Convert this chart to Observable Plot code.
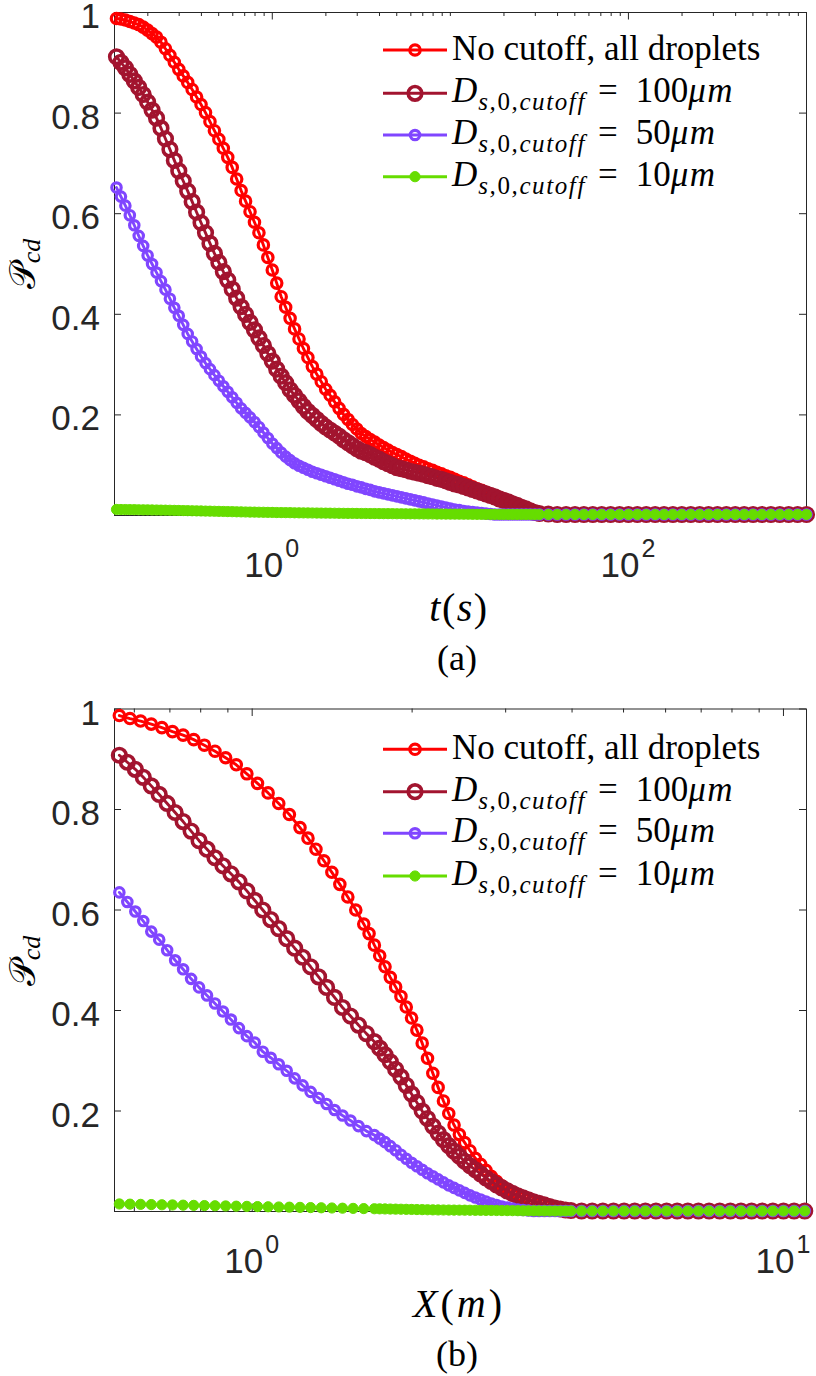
<!DOCTYPE html>
<html>
<head>
<meta charset="utf-8">
<script src="https://cdn.jsdelivr.net/npm/d3@7"></script>
<script src="https://cdn.jsdelivr.net/npm/@observablehq/plot@0.6"></script>
<style>
  html, body { margin: 0; padding: 0; background: #fff; }
  #page { position: relative; width: 816px; height: 1376px; overflow: hidden; background: #fff; }
  .panel { position: absolute; left: 0; }
  .panel svg { overflow: visible; display: block; }
</style>
</head>
<body>
<div id="page"></div>
<script>
// ---------------- DATA ----------------
const seriesNames = ["No cutoff, all droplets", "D_{s,0,cutoff} = 100μm", "D_{s,0,cutoff} = 50μm", "D_{s,0,cutoff} = 10μm"];
const cutoffs = [null, 100, 50, 10];
const yTicks = [0.2, 0.4, 0.6, 0.8, 1];
const yTickLabels = ["0.2", "0.4", "0.6", "0.8", "1"];

// Panel (a): time t (s)
const xTicksA = [1, 100];
const xTickExpA = ["0", "2"];
const xMinorA = [0.2,0.3,0.4,0.5,0.6,0.7,0.8,0.9,2,3,4,5,6,7,8,9,10,20,30,40,50,60,70,80,90,200,300,400,500,600,700,800,900];
const tA = [0.1334,0.1413,0.1496,0.1585,0.1679,0.1778,0.1884,0.1995,0.2113,0.2239,0.2371,0.2512,0.2661,0.2818,0.2985,0.3162,0.3350,0.3548,0.3758,0.3981,0.4217,0.4467,0.4732,0.5012,0.5309,0.5623,0.5957,0.6310,0.6683,0.7079,0.7499,0.7943,0.8414,0.8913,0.9441,1,1.059,1.122,1.189,1.259,1.334,1.413,1.496,1.585,1.679,1.778,1.884,1.995,2.113,2.239,2.371,2.512,2.661,2.818,2.985,3.162,
  3.350,3.548,3.758,3.981,4.217,4.467,4.732,5.012,5.309,5.623,5.957,6.310,6.683,7.079,7.499,7.943,8.414,8.913,9.441,10,10.59,11.22,11.89,12.59,13.34,14.13,14.96,15.85,16.79,17.78,18.84,19.95,21.13,22.39,23.71,25.12,26.61,28.18,29.85,31.62,
  35.48,39.81,44.67,50.12,56.23,63.10,70.79,79.43,89.13,100,112.2,125.9,141.3,158.5,177.8,199.5,223.9,251.2,281.8,316.2,354.8,398.1,446.7,501.2,562.3,631.0,707.9,794.3,891.3,1000];
const pA_all = [0.988,0.987,0.985,0.982,0.979,0.976,0.971,0.965,0.958,0.951,0.941,0.928,0.915,0.901,0.887,0.874,0.861,0.847,0.832,0.817,0.801,0.783,0.765,0.748,0.730,0.712,0.692,0.669,0.646,0.625,0.604,0.583,0.562,0.538,0.513,0.488,0.462,0.435,0.414,0.392,0.371,0.351,0.332,0.314,0.296,0.281,0.266,0.251,0.239,0.226,0.213,0.201,0.191,0.181,0.172,0.163,
  0.157,0.151,0.146,0.140,0.135,0.130,0.125,0.121,0.117,0.112,0.108,0.104,0.100,0.097,0.093,0.090,0.086,0.083,0.079,0.076,0.072,0.068,0.065,0.061,0.057,0.053,0.050,0.046,0.042,0.039,0.035,0.031,0.028,0.024,0.020,0.017,0.013,0.010,0.007,0.005,
  0.003,0.002,0.002,0.002,0.002,0.002,0.002,0.002,0.002,0.002,0.002,0.002,0.002,0.002,0.002,0.002,0.002,0.002,0.002,0.002,0.002,0.002,0.002,0.002,0.002,0.002,0.002,0.002,0.002,0.002];
const pA_100 = [0.912,0.901,0.890,0.877,0.864,0.851,0.837,0.822,0.806,0.790,0.770,0.749,0.728,0.706,0.685,0.665,0.645,0.624,0.603,0.582,0.562,0.541,0.521,0.503,0.485,0.468,0.450,0.432,0.415,0.400,0.384,0.369,0.353,0.338,0.322,0.307,0.291,0.277,0.264,0.250,0.239,0.228,0.217,0.207,0.199,0.191,0.183,0.176,0.170,0.164,0.158,0.151,0.145,0.139,0.133,0.128,
  0.125,0.121,0.116,0.112,0.107,0.103,0.099,0.095,0.093,0.091,0.088,0.086,0.084,0.082,0.079,0.077,0.074,0.072,0.069,0.066,0.063,0.061,0.058,0.055,0.052,0.049,0.046,0.043,0.040,0.037,0.033,0.030,0.027,0.023,0.020,0.016,0.013,0.009,0.006,0.004,
  0.003,0.002,0.002,0.002,0.002,0.002,0.002,0.002,0.002,0.002,0.002,0.002,0.002,0.002,0.002,0.002,0.002,0.002,0.002,0.002,0.002,0.002,0.002,0.002,0.002,0.002,0.002,0.002,0.002,0.002];
const pA_50 = [0.652,0.634,0.616,0.597,0.577,0.556,0.536,0.517,0.500,0.483,0.466,0.449,0.431,0.413,0.397,0.379,0.361,0.346,0.331,0.316,0.303,0.291,0.279,0.268,0.257,0.246,0.235,0.224,0.213,0.204,0.195,0.186,0.176,0.165,0.154,0.143,0.134,0.125,0.117,0.110,0.104,0.099,0.095,0.091,0.087,0.084,0.081,0.078,0.075,0.072,0.069,0.066,0.063,0.061,0.058,0.056,
  0.053,0.051,0.048,0.046,0.044,0.042,0.040,0.038,0.036,0.034,0.032,0.030,0.028,0.026,0.024,0.022,0.020,0.018,0.016,0.014,0.012,0.011,0.009,0.008,0.007,0.006,0.005,0.004,0.003,0.002,0.002,0.002,0.002,0.002,0.002,0.002,0.002,0.002,0.002,0.002,
  0.002,0.002,0.002,0.002,0.002,0.002,0.002,0.002,0.002,0.002,0.002,0.002,0.002,0.002,0.002,0.002,0.002,0.002,0.002,0.002,0.002,0.002,0.002,0.002,0.002,0.002,0.002,0.002,0.002,0.002];
const pA_10 = [0.0120,0.0119,0.0118,0.0117,0.0116,0.0114,0.0113,0.0112,0.0110,0.0109,0.0107,0.0106,0.0104,0.0102,0.0100,0.0098,0.0096,0.0094,0.0092,0.0090,0.0088,0.0086,0.0084,0.0082,0.0080,0.0078,0.0076,0.0074,0.0072,0.0070,0.0068,0.0067,0.0065,0.0064,0.0062,0.0061,0.0059,0.0058,0.0057,0.0056,0.0054,0.0053,0.0052,0.0051,0.0050,0.0049,0.0048,0.0047,0.0046,0.0045,0.0044,0.0043,0.0042,0.0042,0.0041,0.0040,
  0.0040,0.0039,0.0039,0.0038,0.0037,0.0037,0.0036,0.0035,0.0035,0.0034,0.0033,0.0033,0.0032,0.0031,0.0031,0.0030,0.0029,0.0029,0.0028,0.0027,0.0027,0.0026,0.0025,0.0025,0.0024,0.0023,0.0023,0.0022,0.0021,0.0021,0.0020,0.0020,0.0020,0.0020,0.0020,0.0020,0.0020,0.0020,0.0020,0.0020,
  0.002,0.002,0.002,0.002,0.002,0.002,0.002,0.002,0.002,0.002,0.002,0.002,0.002,0.002,0.002,0.002,0.002,0.002,0.002,0.002,0.002,0.002,0.002,0.002,0.002,0.002,0.002,0.002,0.002,0.002];

// Panel (b): distance X (m)
const xTicksB = [1, 10];
const xTickExpB = ["0", "1"];
const xMinorB = [0.6,0.7,0.8,0.9,2,3,4,5,6,7,8,9];
const xB_all = [0.5623,0.5888,0.6166,0.6457,0.6761,0.7079,0.7413,0.7762,0.8128,0.8511,0.8913,0.9333,0.9772,1.0233,1.0715,1.1220,1.1749,1.2303,
  1.2735,1.3183,1.3646,1.4125,1.4621,1.5136,1.5667,1.6218,1.6596,1.6982,
  1.7378,1.7783,1.8197,1.8621,1.9055,1.9498,1.9953,2.0417,2.0893,2.1380,2.1878,2.2387,2.2909,2.3442,2.3988,2.4547,2.5119,2.5704,2.6303,2.6915,2.7542,2.8184,2.8840,2.9512,3.0200,3.0903,3.1623,3.2359,3.3113,3.3884,3.4674,3.5481,3.6308,3.7154,3.8019,3.8905,3.9811];
const pB_all = [0.987,0.981,0.976,0.970,0.963,0.955,0.948,0.939,0.928,0.916,0.903,0.889,0.871,0.852,0.833,0.812,0.790,0.764,
  0.743,0.721,0.698,0.675,0.651,0.626,0.600,0.572,0.553,0.530,
  0.509,0.487,0.466,0.447,0.428,0.407,0.385,0.361,0.335,0.305,0.275,0.247,0.220,0.195,0.172,0.153,0.137,0.121,0.106,0.094,0.082,0.070,0.060,0.051,0.043,0.037,0.032,0.028,0.024,0.020,0.017,0.014,0.011,0.008,0.006,0.004,0.003];
const xB_mid = [0.5623,0.5821,0.6026,0.6237,0.6457,0.6683,0.6918,0.7161,0.7413,0.7674,0.7943,0.8222,0.8511,0.8810,0.9120,0.9441,0.9772,1.0116,1.0471,1.0839,1.1220,1.1615,1.2023,1.2445,1.2882,1.3335,1.3804,1.4289,1.4791,1.5311,1.5849,1.6406,1.6982];
const xB_low = [1.7378,1.7783,1.8197,1.8621,1.9055,1.9498,1.9953,2.0417,2.0893,2.1380,2.1878,2.2387,2.2909,2.3442,2.3988,2.4547,2.5119,2.5704,2.6303,2.6915,2.7542,2.8184,2.8840,2.9512,3.0200,3.0903,3.1623,3.2359,3.3113,3.3884,3.4674,3.5481,3.6308,3.7154,3.8019,3.8905,3.9811];
const xB_coarse = [0.5623,0.5888,0.6166,0.6457,0.6761,0.7079,0.7413,0.7762,0.8128,0.8511,0.8913,0.9333,0.9772,1.0233,1.0715,1.1220,1.1749,1.2303,1.2882,1.3490,1.4125,1.4791,1.5488,1.6218,1.6982];
const pB_100 = [0.908,0.894,0.880,0.864,0.847,0.830,0.812,0.794,0.776,0.757,0.738,0.721,0.704,0.688,0.672,0.656,0.638,0.619,0.600,0.581,0.563,0.543,0.524,0.506,0.487,0.467,0.446,0.426,0.406,0.389,0.371,0.354,0.338,
  0.325,0.312,0.298,0.283,0.268,0.251,0.234,0.217,0.200,0.185,0.170,0.156,0.143,0.131,0.120,0.110,0.100,0.091,0.083,0.075,0.067,0.060,0.053,0.047,0.041,0.036,0.031,0.027,0.023,0.019,0.016,0.013,0.010,0.007,0.005,0.003,0.002];
const pB_50 = [0.635,0.616,0.597,0.578,0.557,0.541,0.520,0.500,0.482,0.463,0.446,0.430,0.414,0.398,0.382,0.365,0.349,0.336,0.318,0.306,0.293,0.280,0.265,0.251,0.238,0.226,0.214,0.202,0.191,0.181,0.170,0.160,0.152,
  0.145,0.138,0.130,0.122,0.113,0.105,0.097,0.090,0.083,0.076,0.070,0.064,0.058,0.052,0.047,0.042,0.037,0.032,0.028,0.024,0.020,0.016,0.013,0.010,0.008,0.006,0.004,0.003,0.002,0.001,0.001,0.001,0.001,0.001,0.001,0.001,0.001];
const pB_10 = [0.0150,0.0146,0.0142,0.0138,0.0134,0.0130,0.0126,0.0122,0.0118,0.0114,0.0110,0.0106,0.0102,0.0098,0.0094,0.0090,0.0086,0.0082,0.0078,0.0074,0.0070,0.0066,0.0062,0.0058,0.0055,
  0.0053,0.0051,0.0049,0.0047,0.0045,0.0043,0.0041,0.0039,0.0037,0.0035,0.0033,0.0031,0.0030,0.0029,0.0028,0.0027,0.0026,0.0025,0.0024,0.0023,0.0022,0.0021,0.0020,0.0019,0.0018,0.0017,0.0016,0.0015,0.0014,0.0013,0.0012,0.0011,0.0010,0.0010,0.0010,0.0010,0.0010];
const xB_tail = [4.1687,4.3652,4.5709,4.7863,5.0119,5.2481,5.4954,5.7544,6.0256,6.3096,6.6069,6.9183,7.2444,7.5858,7.9433,8.3176,8.7096,9.1201,9.5499,10.0,10.471,10.965];
const pB_tail = [0.001,0.001,0.001,0.001,0.001,0.001,0.001,0.001,0.001,0.001,0.001,0.001,0.001,0.001,0.001,0.001,0.001,0.001,0.001,0.001,0.001,0.001];

// ---------------- STYLE ----------------
const AXIS = "#262626";
const SANS = "'Liberation Sans', Arial, Helvetica, sans-serif";
const SERIF = "'Liberation Serif', 'Times New Roman', serif";
const styles = [
  {color: "#ff0000", r: 5.2, sw: 3.2, filled: false},
  {color: "#a2142f", r: 6.8, sw: 3.6, filled: false},
  {color: "#8046ff", r: 4.7, sw: 3.2, filled: false},
  {color: "#66dd00", r: 5.1, sw: 1, filled: true}
];

function makeSeries(xs, ys) { return xs.map((x, i) => ({x, y: ys[i]})); }

const seriesA = [
  makeSeries(tA, pA_all), makeSeries(tA, pA_100), makeSeries(tA, pA_50), makeSeries(tA, pA_10)
];
const seriesB = [
  makeSeries([...xB_all, ...xB_tail], [...pB_all, ...pB_tail]),
  makeSeries([...xB_mid, ...xB_low, ...xB_tail], [...pB_100, ...pB_tail]),
  makeSeries([...xB_mid, ...xB_low, ...xB_tail], [...pB_50, ...pB_tail]),
  makeSeries([...xB_coarse, ...xB_low, ...xB_tail], [...pB_10, ...pB_tail])
];

function buildPanel(cfg) {
  const W = 816, ML = 114, MR = 10;
  const frameW = W - ML - MR;
  const frameH = cfg.height - cfg.mt - cfg.mb;
  const marks = [
    Plot.frame({stroke: AXIS, strokeWidth: 1}),
    Plot.tickX(cfg.major, {x: d => d, stroke: AXIS, strokeWidth: 1, insetBottom: frameH - 7.5}),
    Plot.tickX(cfg.major, {x: d => d, stroke: AXIS, strokeWidth: 1, insetTop: frameH - 7.5}),
    Plot.tickX(cfg.minor, {x: d => d, stroke: AXIS, strokeWidth: 1, insetBottom: frameH - 4}),
    Plot.tickX(cfg.minor, {x: d => d, stroke: AXIS, strokeWidth: 1, insetTop: frameH - 4}),
    Plot.tickY(yTicks, {y: d => d, stroke: AXIS, strokeWidth: 1, insetRight: frameW - 7}),
    Plot.tickY(yTicks, {y: d => d, stroke: AXIS, strokeWidth: 1, insetLeft: frameW - 7})
  ];
  cfg.series.forEach((data, i) => {
    const s = styles[i];
    marks.push(Plot.line(data, {x: "x", y: "y", stroke: s.color, strokeWidth: 2.9}));
    marks.push(Plot.dot(data, {x: "x", y: "y", r: s.r, stroke: s.color, strokeWidth: s.sw, fill: s.filled ? s.color : "none"}));
  });
  const chart = Plot.plot({
    width: W, height: cfg.height,
    marginLeft: ML, marginRight: MR, marginTop: cfg.mt, marginBottom: cfg.mb,
    x: {type: "log", domain: cfg.xDomain, axis: null},
    y: {type: "linear", domain: [0, 1], axis: null},
    style: {background: "transparent", overflow: "visible"},
    marks
  });
  const svg = d3.select(chart);
  const sx = chart.scale("x"), sy = chart.scale("y");
  const fb = cfg.height - cfg.mb;

  // y tick labels
  const gy = svg.append("g").attr("font-family", SANS).attr("font-size", 35).attr("fill", AXIS).attr("text-anchor", "end");
  yTicks.forEach((v, i) => gy.append("text").attr("x", ML - 14).attr("y", sy.apply(v) + 16).text(yTickLabels[i]));

  // x tick labels 10^k
  const gx = svg.append("g").attr("font-family", SANS).attr("font-size", 35).attr("fill", AXIS).attr("text-anchor", "middle");
  cfg.major.forEach((v, i) => {
    const t = gx.append("text").attr("x", sx.apply(v)).attr("y", fb + 62);
    t.append("tspan").text("10");
    t.append("tspan").attr("font-size", 25).attr("dy", -20).attr("dx", 2).text(cfg.exps[i]);
  });

  // y label (rotated)
  const yl = svg.append("text")
    .attr("transform", `translate(35,${cfg.yLabelY}) rotate(-90)`)
    .attr("text-anchor", "middle").attr("fill", "#000");
  yl.append("tspan").attr("font-family", "'DejaVu Serif', 'DejaVu Sans', serif").attr("font-size", 36).text("𝒫");
  yl.append("tspan").attr("font-family", SERIF).attr("font-style", "italic").attr("font-size", 26).attr("dy", 5).text("cd");

  // x label
  const xl = svg.append("text").attr("x", 459).attr("y", fb + 106).attr("text-anchor", "middle")
    .attr("font-family", SERIF).attr("font-size", 40).attr("fill", "#000").attr("letter-spacing", cfg.xLabelSpacing);
  cfg.xLabel.forEach(([txt, it]) => xl.append("tspan").attr("font-style", it ? "italic" : "normal").text(txt));

  // caption
  svg.append("text").attr("x", 457).attr("y", fb + 155).attr("text-anchor", "middle")
    .attr("font-family", SERIF).attr("font-size", 36).attr("fill", "#000").text(cfg.caption);

  // legend
  const lg = svg.append("g").attr("text-anchor", "start");
  styles.forEach((s, i) => {
    const y = cfg.mt + cfg.legendDy[i];
    lg.append("line").attr("x1", 383).attr("x2", 447).attr("y1", y).attr("y2", y).attr("stroke", s.color).attr("stroke-width", 2.9);
    lg.append("circle").attr("cx", 415).attr("cy", y).attr("r", s.r).attr("stroke", s.color).attr("stroke-width", s.sw).attr("fill", s.filled ? s.color : "none");
    const t = lg.append("text").attr("x", 452).attr("y", y + 10).attr("text-anchor", "start")
      .attr("font-family", SERIF).attr("font-size", 35).attr("fill", "#000");
    if (cutoffs[i] === null) {
      t.text(seriesNames[i]);
    } else {
      t.attr("y", y + 9);
      t.append("tspan").attr("font-style", "italic").text("D");
      const sub = (txt, it) => t.append("tspan").attr("font-size", 25).attr("font-style", it ? "italic" : "normal").attr("letter-spacing", 1.6).text(txt);
      sub("s,", true).attr("dy", 8).attr("dx", 1);
      sub("0", false);
      sub(",cutoff", true);
      t.append("tspan").attr("dy", -8).attr("dx", 12).text("=");
      t.append("tspan").attr("dx", 18).text(String(cutoffs[i]));
      t.append("tspan").attr("font-style", "italic").attr("letter-spacing", 1.5).text("μm");
    }
  });
  return chart;
}

const page = document.getElementById("page");
const divA = document.createElement("div"); divA.className = "panel"; divA.style.top = "0px"; page.appendChild(divA);
const divB = document.createElement("div"); divB.className = "panel"; divB.style.top = "680px"; page.appendChild(divB);

divA.appendChild(buildPanel({
  height: 680, mt: 12, mb: 165, xDomain: [0.130, 1000],
  major: xTicksA, exps: xTickExpA, minor: xMinorA, series: seriesA,
  yLabelY: 264, xLabel: [["t", true], ["(", false], ["s", true], [")", false]], xLabelSpacing: 1.5,
  caption: "(a)", legendDy: [38, 81.3, 123, 164.7]
}));
divB.appendChild(buildPanel({
  height: 696, mt: 28.5, mb: 165, xDomain: [0.5506, 11.05],
  major: xTicksB, exps: xTickExpB, minor: xMinorB, series: seriesB,
  yLabelY: 281, xLabel: [["X", true], ["(", false], ["m", true], [")", false]], xLabelSpacing: 3,
  caption: "(b)", legendDy: [40.8, 83.2, 124.8, 167.5]
}));
</script>
</body>
</html>
